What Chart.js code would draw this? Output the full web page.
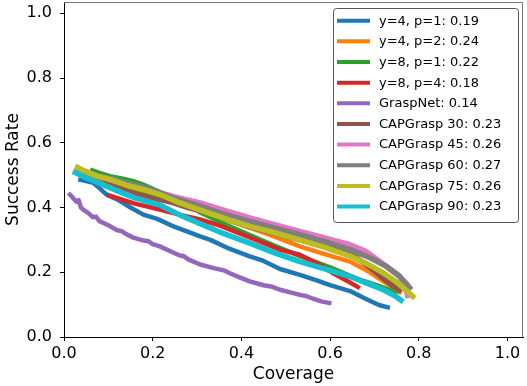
<!DOCTYPE html>
<html>
<head>
<meta charset="utf-8">
<script src="https://cdn.jsdelivr.net/npm/chart.js@4.4.1/dist/chart.umd.min.js"></script>
<style>
  body { margin: 0; background: #fff; }
  canvas { display: block; }
</style>
</head>
<body>
<canvas id="curveChart" width="527" height="386"></canvas>
<script>
// series labels (legend text) and colours
const labels = [
  'y=4, p=1: 0.19', 'y=4, p=2: 0.24', 'y=8, p=1: 0.22', 'y=8, p=4: 0.18', 'GraspNet: 0.14',
  'CAPGrasp 30: 0.23', 'CAPGrasp 45: 0.26', 'CAPGrasp 60: 0.27', 'CAPGrasp 75: 0.26', 'CAPGrasp 90: 0.23'
];
const colors = ['#1f77b4', '#ff7f0e', '#2ca02c', '#d62728', '#9467bd',
  '#8c564b', '#e377c2', '#7f7f7f', '#bcbd22', '#17becf'];

// [coverage, success rate]
const y4p1 = [[0.032,0.487],[0.05,0.482],[0.066,0.476],[0.08,0.46],[0.096,0.44],[0.12,0.425],[0.15,0.4],[0.179,0.378],[0.21,0.365],[0.25,0.34],[0.28,0.325],[0.307,0.311],[0.33,0.3],[0.374,0.272],[0.419,0.249],[0.45,0.235],[0.487,0.21],[0.532,0.192],[0.57,0.175],[0.6,0.16],[0.645,0.142],[0.68,0.118],[0.71,0.099],[0.735,0.09]];
const y4p2 = [[0.05,0.505],[0.1,0.48],[0.15,0.46],[0.2,0.44],[0.26,0.41],[0.307,0.39],[0.36,0.365],[0.419,0.338],[0.46,0.318],[0.532,0.28],[0.59,0.255],[0.645,0.233],[0.69,0.2],[0.72,0.172],[0.745,0.15],[0.761,0.135]];
const y8p1 = [[0.059,0.517],[0.08,0.507],[0.104,0.497],[0.13,0.49],[0.155,0.482],[0.18,0.47],[0.21,0.452],[0.254,0.425],[0.307,0.385],[0.33,0.37],[0.352,0.355],[0.419,0.315],[0.47,0.285],[0.532,0.25],[0.6,0.215],[0.667,0.177],[0.71,0.158],[0.735,0.145],[0.75,0.13]];
const y8p4 = [[0.096,0.44],[0.13,0.425],[0.16,0.412],[0.216,0.394],[0.26,0.378],[0.307,0.363],[0.35,0.345],[0.419,0.308],[0.487,0.27],[0.532,0.254],[0.57,0.228],[0.607,0.197],[0.64,0.172],[0.667,0.151]];
const graspNet = [[0.01,0.445],[0.02,0.43],[0.028,0.418],[0.033,0.423],[0.038,0.4],[0.045,0.392],[0.055,0.383],[0.065,0.37],[0.072,0.372],[0.08,0.358],[0.1,0.345],[0.12,0.33],[0.13,0.327],[0.14,0.318],[0.156,0.307],[0.18,0.298],[0.19,0.296],[0.2,0.287],[0.216,0.28],[0.24,0.265],[0.261,0.252],[0.27,0.25],[0.28,0.24],[0.307,0.224],[0.34,0.212],[0.36,0.206],[0.374,0.197],[0.4,0.182],[0.419,0.172],[0.45,0.16],[0.47,0.155],[0.487,0.146],[0.51,0.138],[0.532,0.13],[0.545,0.127],[0.56,0.119],[0.58,0.11],[0.603,0.104]];
const cap30 = [[0.045,0.51],[0.07,0.495],[0.088,0.478],[0.12,0.462],[0.16,0.445],[0.2,0.43],[0.239,0.418],[0.28,0.4],[0.33,0.382],[0.419,0.34],[0.532,0.3],[0.6,0.275],[0.645,0.258],[0.69,0.215],[0.712,0.19],[0.74,0.16],[0.761,0.14]];
const cap45 = [[0.04,0.515],[0.08,0.495],[0.12,0.48],[0.16,0.465],[0.2,0.452],[0.25,0.433],[0.307,0.414],[0.36,0.392],[0.419,0.368],[0.475,0.347],[0.532,0.326],[0.59,0.305],[0.645,0.285],[0.68,0.265],[0.705,0.24],[0.73,0.215],[0.757,0.187],[0.77,0.155],[0.776,0.12]];
const cap60 = [[0.03,0.52],[0.07,0.5],[0.11,0.488],[0.16,0.47],[0.2,0.455],[0.25,0.428],[0.307,0.404],[0.36,0.38],[0.419,0.357],[0.475,0.337],[0.532,0.316],[0.59,0.294],[0.645,0.27],[0.69,0.245],[0.727,0.218],[0.755,0.19],[0.772,0.165],[0.783,0.146]];
const cap75 = [[0.025,0.528],[0.05,0.51],[0.075,0.497],[0.104,0.487],[0.143,0.468],[0.18,0.455],[0.216,0.44],[0.26,0.415],[0.307,0.392],[0.36,0.367],[0.419,0.342],[0.475,0.322],[0.532,0.3],[0.59,0.276],[0.645,0.25],[0.685,0.225],[0.72,0.198],[0.75,0.17],[0.775,0.14],[0.791,0.12]];
const cap90 = [[0.02,0.512],[0.05,0.492],[0.075,0.478],[0.096,0.466],[0.13,0.446],[0.16,0.43],[0.216,0.408],[0.26,0.378],[0.307,0.35],[0.35,0.325],[0.419,0.29],[0.475,0.26],[0.532,0.233],[0.59,0.21],[0.645,0.187],[0.68,0.168],[0.72,0.146],[0.745,0.128],[0.765,0.109]];

const curves = [y4p1, y4p2, y8p1, y8p4, graspNet, cap30, cap45, cap60, cap75, cap90];
const tickVals = [0, 0.2, 0.4, 0.6, 0.8, 1.0];

const FONT = "'DejaVu Sans', sans-serif";

// matplotlib-like frame: grey top/right spines + legend box inside the plot
const framePlugin = {
  id: 'frame',
  afterDraw(chart) {
    const { ctx, chartArea: a } = chart;
    ctx.save();
    ctx.strokeStyle = '#777';
    ctx.lineWidth = 1;
    ctx.beginPath();
    ctx.moveTo(a.left, a.top + 0.5);
    ctx.lineTo(a.right - 0.5, a.top + 0.5);
    ctx.lineTo(a.right - 0.5, a.bottom);
    ctx.stroke();

    // legend
    const bx = 333.5, by = 8.5, bw = 185, bh = 214;
    ctx.fillStyle = 'rgba(255,255,255,0.9)';
    ctx.strokeStyle = '#555';
    ctx.beginPath();
    ctx.roundRect(bx, by, bw, bh, 3);
    ctx.fill();
    ctx.stroke();
    ctx.font = '13px ' + FONT;
    ctx.textBaseline = 'middle';
    ctx.textAlign = 'left';
    labels.forEach((lab, i) => {
      const yy = 20.7 + i * 20.65;
      ctx.strokeStyle = colors[i];
      ctx.lineWidth = 4;
      ctx.beginPath();
      ctx.moveTo(337, yy);
      ctx.lineTo(370, yy);
      ctx.stroke();
      ctx.fillStyle = '#000';
      ctx.fillText(lab, 379, yy + 0.5);
    });
    ctx.restore();
  }
};

const datasets = curves.map((c, i) => ({
  label: labels[i],
  data: c.map(p => ({ x: p[0], y: p[1] })),
  borderColor: colors[i],
  backgroundColor: colors[i],
  borderWidth: i < 5 ? 4.5 : 5.5,
  pointRadius: 0,
  tension: 0,
  fill: false,
  borderJoinStyle: 'round',
  borderCapStyle: 'butt',
  order: 10 - i
}));

const axisCommon = {
  type: 'linear',
  min: 0,
  max: 1.035,
  afterBuildTicks: (scale) => { scale.ticks = tickVals.map(v => ({ value: v })); },
  grid: { drawOnChartArea: false, drawTicks: true, tickLength: 4, color: '#000', lineWidth: 1 },
  border: { display: true, color: '#000', width: 1 },
};

new Chart(document.getElementById('curveChart'), {
  type: 'line',
  data: { datasets },
  options: {
    responsive: false,
    animation: false,
    layout: { padding: { top: 2, right: 4, left: 0, bottom: 0 } },
    plugins: { legend: { display: false }, tooltip: { enabled: false } },
    scales: {
      x: {
        ...axisCommon,
        position: 'bottom',
        ticks: { color: '#000', font: { family: FONT, size: 16 }, padding: 3, maxRotation: 0,
          callback: v => v.toFixed(1) },
        title: { display: true, text: 'Coverage', color: '#000', font: { family: FONT, size: 17 },
          padding: { top: 0, bottom: 1 } },
        afterFit: s => { s.height = 49; s.paddingLeft = 0; s.paddingRight = 0; }
      },
      y: {
        ...axisCommon,
        position: 'left',
        ticks: { color: '#000', font: { family: FONT, size: 16 }, padding: 8,
          callback: v => v.toFixed(1) },
        title: { display: true, text: 'Success Rate', color: '#000', font: { family: FONT, size: 17 },
          padding: { top: 3, bottom: 0 } },
        afterFit: s => { s.width = 64; s.paddingTop = 0; s.paddingBottom = 0; }
      }
    }
  },
  plugins: [framePlugin]
});
</script>
</body>
</html>
